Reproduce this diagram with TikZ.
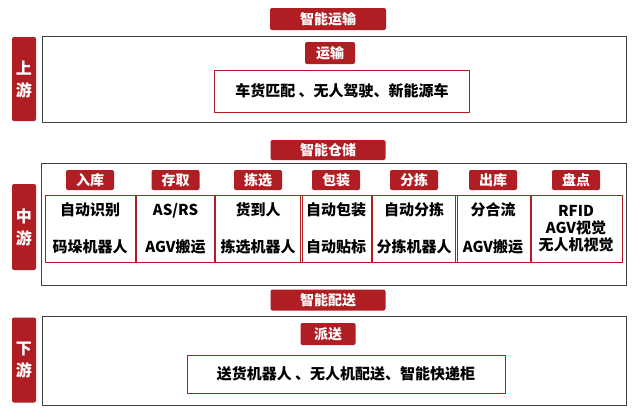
\documentclass[tikz,border=0pt]{standalone}
\usepackage{fontspec}
\setmainfont{Noto Sans CJK SC}
\begin{document}
\begin{tikzpicture}[x=1pt,y=-1pt,
 tag/.style={fill=myred,text=white,rounded corners=2pt,inner sep=0pt,font=\fontsize{14}{15}\selectfont\bfseries},
 frame/.style={draw=black!75,line width=1pt},
 sub/.style={draw=myred,line width=1pt,font=\fontsize{15}{17}\selectfont\bfseries,align=center,inner sep=0pt}]
\definecolor{myred}{HTML}{B01E23}
\useasboundingbox (0,0) rectangle (640,416);
\fill[white] (0,0) rectangle (640,416);
% frames
\draw[frame] (42,36) rectangle (626,122);
\draw[frame] (41,163) rectangle (626,285);
\draw[frame] (42,316) rectangle (626,405);
% titles
\node[tag,minimum width=116,minimum height=22] (t1) at (328,19) {智能运输};
\node[tag,minimum width=115,minimum height=20] (t2) at (328,150) {智能仓储};
\node[tag,minimum width=115,minimum height=21] (t3) at (328,300) {智能配送};
% side tabs
\node[tag,minimum width=24,minimum height=84,align=center,font=\fontsize{16}{22}\selectfont\bfseries] (s1) at (24,79) {上\\游};
\node[tag,minimum width=24,minimum height=86,align=center,font=\fontsize{16}{22}\selectfont\bfseries] (s2) at (24,227) {中\\游};
\node[tag,minimum width=24,minimum height=85,align=center,font=\fontsize{16}{22}\selectfont\bfseries] (s3) at (24,360) {下\\游};
% top
\node[tag,minimum width=50,minimum height=22] (y1) at (330,53) {运输};
\node[sub,minimum width=255,minimum height=42] (b1) at (342,91) {车货匹配 、无人驾驶、新能源车};
% bottom
\node[tag,minimum width=55,minimum height=22] (p1) at (328,334) {派送};
\node[sub,minimum width=318,minimum height=38] (b3) at (346,374) {送货机器人 、无人机配送、智能快递柜};
% middle
\foreach \n/\a/\b/\lab/\txt in {
 m1/47/133/入库/{自动识别\\[20pt]码垛机器人},
 m2/138/213/存取/{AS/RS\\[20pt]AGV搬运},
 m3/216/300/拣选/{货到人\\[20pt]拣选机器人},
 m4/302/370/包装/{自动包装\\[20pt]自动贴标},
 m5/373/455/分拣/{自动分拣\\[20pt]分拣机器人},
 m6/457/529/出库/{分合流\\[20pt]AGV搬运},
 m7/532/620/盘点/{RFID\\AGV视觉\\无人机视觉}}{
 \node[sub,minimum width=\b-\a,minimum height=67,text width=\b-\a+4] (\n) at ({(\a+\b)/2},228.5) {\txt};
 \node[tag,minimum width=48,minimum height=20] (\n t) at ({(\a+\b)/2},180) {\lab};
}
\end{tikzpicture}
\end{document}
